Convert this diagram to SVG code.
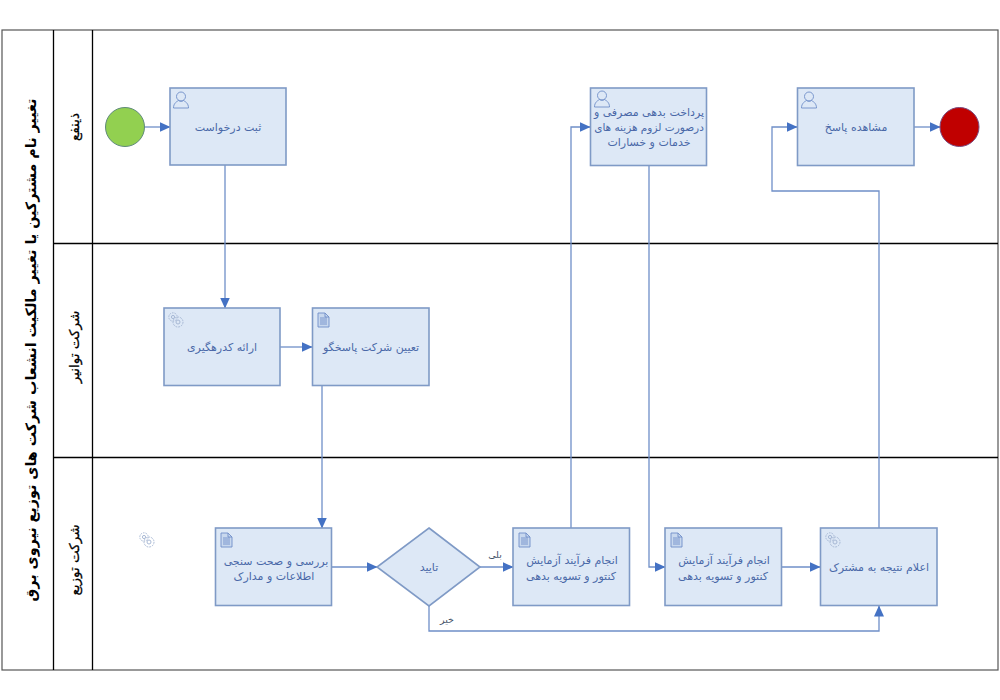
<svg xmlns="http://www.w3.org/2000/svg" width="1000" height="700" viewBox="0 0 1000 700">
<style>
text{font-family:"DejaVu Sans","Noto Sans",sans-serif;direction:rtl;text-anchor:middle}
.t{font-size:11px;fill:#4a68a8}
.lb{font-size:9.500px;fill:#44546a}
.lane{font-size:13.500px;fill:#000;stroke:#000;stroke-width:.25}
.title{font-size:14.300px;font-weight:bold;fill:#000}
.box{fill:#dde8f6;stroke:#7f9ac6;stroke-width:1.6}
.line{fill:none;stroke:#000;stroke-width:1.3}
.c{fill:none;stroke:#6f8fc8;stroke-width:1.3}
.ic{fill:none;stroke:#6f8fc8;stroke-width:.9}
.gr{fill:none;stroke:#a0b2d0;stroke-width:.9}
</style>
<defs>
<marker id="a" markerUnits="userSpaceOnUse" markerWidth="11" markerHeight="11" refX="10.500" refY="5.500" orient="auto"><path d="M0 0.500L11 5.500L0 10.500Z" fill="#4472c4"/></marker>
<g id="user" class="ic"><circle cx="8" cy="5.500" r="4.500"/><path d="M0.500 17C0.500 12 4 10.500 5.500 9.500C7 10.500 9 10.500 10.500 9.500C12 10.500 15.500 12 15.500 17Z"/></g>
<g id="doc" class="ic"><path d="M1 1H8L12 5V15H1Z" fill="#c8d8ee"/><path d="M8 1V5H12M3 6H10M3 8H10M3 10H10M3 12H10"/></g>
<g id="gear" class="gr"><circle cx="5" cy="5" r="4.200" stroke-dasharray="1.600 1"/><circle cx="5" cy="5" r="1.600"/><circle cx="10" cy="10" r="5" stroke-dasharray="1.800 1"/><circle cx="10" cy="10" r="2"/></g>
</defs>
<rect width="1000" height="700" fill="#fff"/>
<g id="pool">
<rect x="2" y="30" width="996" height="640" fill="#fff" stroke="#555" stroke-width="1.200"/>
<path class="line" d="M53.500 30V670M92.500 30V670M53 243.500H998M53 457.500H998"/>
<text class="title" transform="translate(36 350) rotate(-90)">تغییر نام مشترکین یا تغییر مالکیت انشعاب شرکت های توزیع نیروی برق</text>
<text class="lane" transform="translate(79 127) rotate(-90)">ذینفع</text>
<text class="lane" transform="translate(79 347) rotate(-90)">شرکت توانیر</text>
<text class="lane" transform="translate(79 560) rotate(-90)">شرکت توزیع</text>
</g>
<g id="connectors">
<path class="c" marker-end="url(#a)" d="M145 127H170"/>
<path class="c" marker-end="url(#a)" d="M225 165V308"/>
<path class="c" marker-end="url(#a)" d="M280 347H312"/>
<path class="c" marker-end="url(#a)" d="M322 386V528"/>
<path class="c" marker-end="url(#a)" d="M332 567H377"/>
<path class="c" marker-end="url(#a)" d="M479 567H513"/>
<path class="c" marker-end="url(#a)" d="M429 606V631H879V606"/>
<path class="c" marker-end="url(#a)" d="M571 528V127H590"/>
<path class="c" marker-end="url(#a)" d="M649 166V567H665"/>
<path class="c" marker-end="url(#a)" d="M782 567H820"/>
<path class="c" marker-end="url(#a)" d="M879 528V191H772V127H797"/>
<path class="c" marker-end="url(#a)" d="M914 127H940"/>
<text class="lb" x="495" y="558">بلی</text>
<text class="lb" x="447" y="623">خیر</text>
</g>
<g id="start"><circle cx="125" cy="127" r="19.500" fill="#92d050" stroke="#5f8a7a" stroke-width="1"/></g>
<g id="end"><circle cx="959.500" cy="127" r="19.500" fill="#c00000" stroke="#7a4a80" stroke-width="1"/></g>
<g id="n1"><rect class="box" x="170" y="88" width="116" height="77"/><use href="#user" x="173" y="91"/><text class="t" x="228" y="131">ثبت درخواست</text></g>
<g id="n2"><rect class="box" x="164" y="308" width="116" height="77.500"/><use href="#gear" x="168" y="312"/><text class="t" x="222" y="351">ارائه کدرهگیری</text></g>
<g id="n3"><rect class="box" x="312.500" y="308" width="116.500" height="77.500"/><use href="#doc" x="317" y="312"/><text class="t" x="371" y="351">تعیین شرکت پاسخگو</text></g>
<g id="n4"><rect class="box" x="215.500" y="528" width="116" height="77.500"/><use href="#doc" x="220" y="532"/><text class="t" x="276" y="565">بررسی و صحت سنجی</text><text class="t" x="274" y="580">اطلاعات و مدارک</text></g>
<g id="gateway"><path class="box" d="M429 528L480 567L429 606L377 567Z"/><text class="t" x="429" y="571">تایید</text></g>
<g id="n5"><rect class="box" x="513" y="528" width="116.500" height="77.500"/><use href="#doc" x="518" y="532"/><text class="t" x="572" y="564">انجام فرآیند آزمایش</text><text class="t" x="571" y="580">کنتور و تسویه بدهی</text></g>
<g id="n6"><rect class="box" x="665" y="528" width="116.500" height="77.500"/><use href="#doc" x="670" y="532"/><text class="t" x="724" y="564">انجام فرآیند آزمایش</text><text class="t" x="723" y="580">کنتور و تسویه بدهی</text></g>
<g id="n7"><rect class="box" x="820.500" y="528" width="116.500" height="77.500"/><use href="#gear" x="825" y="532"/><text class="t" x="879" y="571">اعلام نتیجه به مشترک</text></g>
<g id="n8"><rect class="box" x="590.500" y="88" width="116" height="77.500"/><use href="#user" x="594" y="90"/><text class="t" x="649" y="116">پرداخت بدهی مصرفی و</text><text class="t" x="649" y="131" font-size="10.500" style="font-size:10.500px">درصورت لزوم هزینه های</text><text class="t" x="649" y="146">خدمات و خسارات</text></g>
<g id="n9"><rect class="box" x="797.500" y="88" width="116.500" height="77.500"/><use href="#user" x="801" y="91"/><text class="t" x="856" y="131">مشاهده پاسخ</text></g>
<g id="stray-gear"><use href="#gear" x="139" y="532"/></g>
</svg>
